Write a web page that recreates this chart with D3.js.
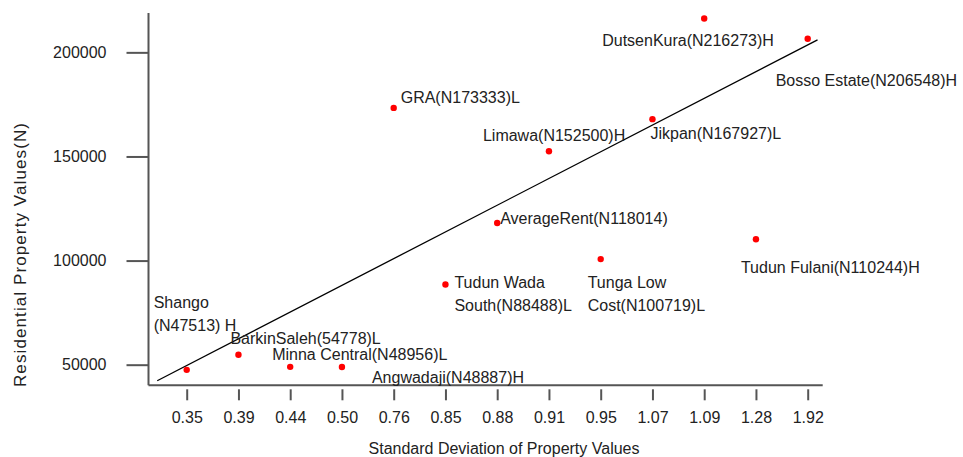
<!DOCTYPE html>
<html>
<head>
<meta charset="utf-8">
<script src="https://cdn.jsdelivr.net/npm/d3@7/dist/d3.min.js"></script>
<style>
  body { margin: 0; background: #fff; }
  text { font-family: "Liberation Sans", Arial, sans-serif; font-size: 16px; fill: #222; }
</style>
</head>
<body>
<div id="chart"></div>
<script>
var width  = 963,
    height = 457;

// data
var sdTicks = ["0.35", "0.39", "0.44", "0.50", "0.76", "0.85", "0.88", "0.91", "0.95", "1.07", "1.09", "1.28", "1.92"];
var values  = [47513, 54778, 48956, 48887, 173333, 88488, 118014, 152500, 100719, 167927, 216273, 110244, 206548];
var names   = [
    ["Shango", "(N47513) H"],
    ["BarkinSaleh(54778)L"],
    ["Minna Central(N48956)L"],
    ["Angwadaji(N48887)H"],
    ["GRA(N173333)L"],
    ["Tudun Wada", "South(N88488)L"],
    ["AverageRent(N118014)"],
    ["Limawa(N152500)H"],
    ["Tunga Low", "Cost(N100719)L"],
    ["Jikpan(N167927)L"],
    ["DutsenKura(N216273)H"],
    ["Tudun Fulani(N110244)H"],
    ["Bosso Estate(N206548)H"]
];
var yTicks = [50000, 100000, 150000, 200000];
// trend line ends, as [category position, value]
var trend = [[-0.57, 42300], [12.19, 206000]];

// label placement relative to each point (px)
var labelOffset = [
    [-33, -62], [-8, -11], [-18, -7], [30, 16], [7, -5], [9, 3], [3, 1],
    [-66, -10], [-13, 29], [-2, 20], [-102, 28], [-15, 34], [-32, 47]
];

var x = d3.scalePoint()
    .domain(sdTicks)
    .range([186.7, 807.7]);

var y = d3.scaleLinear()
    .domain([40100, 218900])
    .range([385.3, 13]);

// fractional category position -> px
function xPos(i) { return x(sdTicks[0]) + i * x.step(); }

var svg = d3.select("#chart").append("svg")
    .attr("width", width)
    .attr("height", height);

// axes
var gY = svg.append("g")
    .attr("transform", "translate(148.5,0)")
    .call(d3.axisLeft(y).tickValues(yTicks).tickSize(22).tickPadding(20).tickFormat(d3.format("d")));

gY.select(".domain").attr("d", "M0," + y.range()[1] + "V" + y.range()[0]);

var gX = svg.append("g")
    .attr("transform", "translate(0,385.3)")
    .call(d3.axisBottom(x).tickSize(0).tickPadding(26));

gX.select(".domain").attr("d", "M148.5,0H822.7");
gX.selectAll(".tick line").attr("y1", 4).attr("y2", 15);

svg.selectAll(".domain, .tick line")
    .attr("stroke", "#555")
    .attr("stroke-width", 2);
svg.selectAll(".tick text")
    .style("font-family", "'Liberation Sans', Arial, sans-serif")
    .style("font-size", "16px")
    .attr("fill", "#222");

// axis titles
svg.append("text")
    .attr("x", 504)
    .attr("y", 454)
    .attr("text-anchor", "middle")
    .text("Standard Deviation of Property Values");

svg.append("text")
    .attr("transform", "translate(25.5,255) rotate(-90)")
    .attr("text-anchor", "middle")
    .attr("textLength", 264)
    .attr("lengthAdjust", "spacing")
    .style("font-size", "17px")
    .text("Residential Property Values(N)");

// trend line
svg.append("line")
    .attr("x1", xPos(trend[0][0]))
    .attr("y1", y(trend[0][1]))
    .attr("x2", xPos(trend[1][0]))
    .attr("y2", y(trend[1][1]))
    .attr("stroke", "#000")
    .attr("stroke-width", 1.3);

// points
var pts = sdTicks.map(function(d, i) {
    return { sd: d, v: values[i], name: names[i], off: labelOffset[i] };
});

svg.selectAll("circle.pt")
    .data(pts)
    .enter()
    .append("circle")
    .attr("class", "pt")
    .attr("cx", function(d) { return x(d.sd); })
    .attr("cy", function(d) { return y(d.v); })
    .attr("r", 3.2)
    .attr("fill", "#ff0000");

var labels = svg.selectAll("text.lbl")
    .data(pts)
    .enter()
    .append("text")
    .attr("class", "lbl")
    .attr("x", function(d) { return x(d.sd) + d.off[0]; })
    .attr("y", function(d) { return y(d.v) + d.off[1]; });

labels.selectAll("tspan")
    .data(function(d) {
        return d.name.map(function(s, k) { return { s: s, x: x(d.sd) + d.off[0], k: k }; });
    })
    .enter()
    .append("tspan")
    .attr("x", function(d) { return d.x; })
    .attr("dy", function(d) { return d.k ? 23 : 0; })
    .text(function(d) { return d.s; });
</script>
</body>
</html>
